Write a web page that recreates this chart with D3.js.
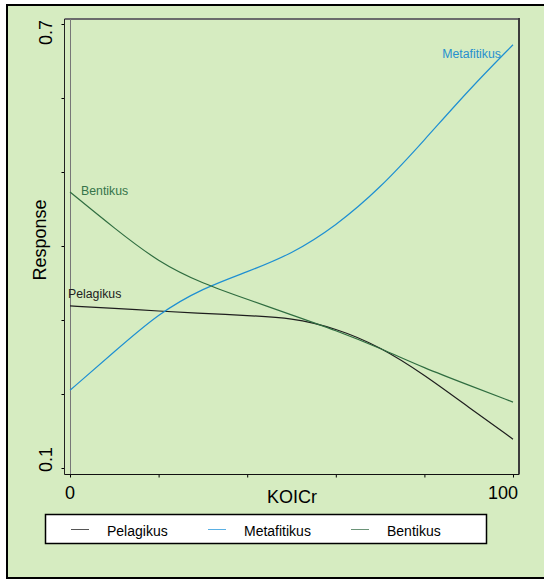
<!DOCTYPE html>
<meta charset="utf-8">
<style>
html, body { margin: 0; padding: 0; background: #fff; }
svg { display: block; }
text { font-family: Arial, "Liberation Sans", sans-serif; }
</style>
<svg width="544" height="581"></svg>
<script src="https://d3js.org/d3.v7.min.js"></script>
<script>

// KOICr values where the curves were read
var koicr = [0, 10, 20, 30, 40, 50, 60, 70, 80, 90, 100];
var pelagikus   = [0.319, 0.316, 0.312, 0.309, 0.306, 0.303, 0.289, 0.264, 0.226, 0.182, 0.139];
var metafitikus = [0.205, 0.257, 0.309, 0.343, 0.365, 0.389, 0.427, 0.478, 0.543, 0.611, 0.672];
var bentikus    = [0.473, 0.424, 0.378, 0.349, 0.328, 0.307, 0.286, 0.262, 0.235, 0.212, 0.189];

var seriesNames = ["Pelagikus", "Metafitikus", "Bentikus"];
var yTicks = [0.1, 0.2, 0.3, 0.4, 0.5, 0.6, 0.7];
var xTicks = [0, 20, 40, 60, 80, 100];
var yLabels = [0.1, 0.7];
var xLabels = [0, 100];

var colors = { Pelagikus: "#1e1e1e", Metafitikus: "#1e8fd2", Bentikus: "#2f6d40" };
var labelColors = { Pelagikus: "#222", Metafitikus: "#2790cf", Bentikus: "#35744a" };
var legendColors = { Pelagikus: "#555", Metafitikus: "#5ab0e4", Bentikus: "#6b9478" };

var svg = d3.select("svg");
var green = "#d6ecc1";

// outer frame
svg.append("rect")
  .attr("x", 7).attr("y", 5).attr("width", 560).attr("height", 573)
  .attr("fill", green).attr("stroke", "#000").attr("stroke-width", 2);

var x = d3.scaleLinear().domain([0, 100]).range([70, 513]);
var y = d3.scaleLinear().domain([0.1, 0.7]).range([468, 24]);

var pLeft = 64.5, pRight = 519, pTop = 19, pBottom = 474.5;

// plot frame
svg.append("line").attr("x1", pLeft).attr("x2", pRight).attr("y1", pTop).attr("y2", pTop)
  .attr("stroke", "#6b6b6b").attr("stroke-width", 2);
svg.append("line").attr("x1", pRight).attr("x2", pRight).attr("y1", pTop - 1).attr("y2", pBottom)
  .attr("stroke", "#3c3c3c").attr("stroke-width", 2);
svg.append("line").attr("x1", x(0) + 0.5).attr("x2", x(0) + 0.5).attr("y1", pTop).attr("y2", pBottom)
  .attr("stroke", "#777").attr("stroke-width", 1);

// axes
var yAxis = svg.append("g")
  .attr("transform", "translate(" + pLeft + ",0)")
  .call(d3.axisLeft(y).tickValues(yTicks).tickSize(3).tickFormat(""));
yAxis.select(".domain").remove();

var xAxis = svg.append("g")
  .attr("transform", "translate(0," + pBottom + ")")
  .call(d3.axisBottom(x).tickValues(xTicks).tickSize(3).tickFormat(""));
xAxis.select(".domain").remove();

svg.append("line").attr("x1", pLeft).attr("x2", pLeft).attr("y1", pTop).attr("y2", pBottom)
  .attr("stroke", "#222");
svg.append("line").attr("x1", pLeft).attr("x2", pRight).attr("y1", pBottom).attr("y2", pBottom)
  .attr("stroke", "#111");

// tick labels
svg.selectAll(".ylab").data(yLabels).enter().append("text")
  .attr("class", "ylab")
  .attr("transform", function(d) {
    var py = d === 0.1 ? y(d) + 4 : y(d) - 4;
    return "translate(52," + py + ") rotate(-90)";
  })
  .attr("text-anchor", function(d) { return d === 0.1 ? "start" : "end"; })
  .attr("font-size", 18)
  .text(function(d) { return d; });

svg.selectAll(".xlab").data(xLabels).enter().append("text")
  .attr("class", "xlab")
  .attr("x", function(d) { return d === 100 ? x(d) - 10 : x(d); })
  .attr("y", 499)
  .attr("text-anchor", "middle")
  .attr("font-size", 18)
  .text(function(d) { return d; });

// axis titles
svg.append("text")
  .attr("x", 292).attr("y", 503)
  .attr("text-anchor", "middle").attr("font-size", 18)
  .text("KOICr");
svg.append("text")
  .attr("transform", "translate(46,240) rotate(-90)")
  .attr("text-anchor", "middle").attr("font-size", 18)
  .text("Response");

// curves
var seriesData = {
  Pelagikus: pelagikus,
  Metafitikus: metafitikus,
  Bentikus: bentikus
};

var line = d3.line()
  .x(function(d) { return x(d[0]); })
  .y(function(d) { return y(d[1]); })
  .curve(d3.curveBasis);

seriesNames.forEach(function(name) {
  var pts = koicr.map(function(k, i) { return [k, seriesData[name][i]]; });
  svg.append("path")
    .datum(pts)
    .attr("d", line)
    .attr("fill", "none")
    .attr("stroke", colors[name])
    .attr("stroke-width", 1.2);
});

// in-plot labels
svg.append("text").attr("x", 81).attr("y", 195)
  .attr("font-size", 12.3).attr("fill", labelColors.Bentikus).text("Bentikus");
svg.append("text").attr("x", 68).attr("y", 298)
  .attr("font-size", 12.3).attr("fill", labelColors.Pelagikus).text("Pelagikus");
svg.append("text").attr("x", 501).attr("y", 58).attr("text-anchor", "end")
  .attr("font-size", 12.3).attr("fill", labelColors.Metafitikus).text("Metafitikus");

// legend
var legend = svg.append("g");
legend.append("rect")
  .attr("x", 45.5).attr("y", 514.5).attr("width", 441).attr("height", 29)
  .attr("fill", "#fff").attr("stroke", "#000").attr("stroke-width", 1.5);

var legendX = [71, 208, 351];
seriesNames.forEach(function(name, i) {
  legend.append("line")
    .attr("x1", legendX[i]).attr("x2", legendX[i] + 18)
    .attr("y1", 529.5).attr("y2", 529.5)
    .attr("stroke", legendColors[name]).attr("stroke-width", 1);
  legend.append("text")
    .attr("x", legendX[i] + 36).attr("y", 536)
    .attr("font-size", 14)
    .text(name);
});

</script>
